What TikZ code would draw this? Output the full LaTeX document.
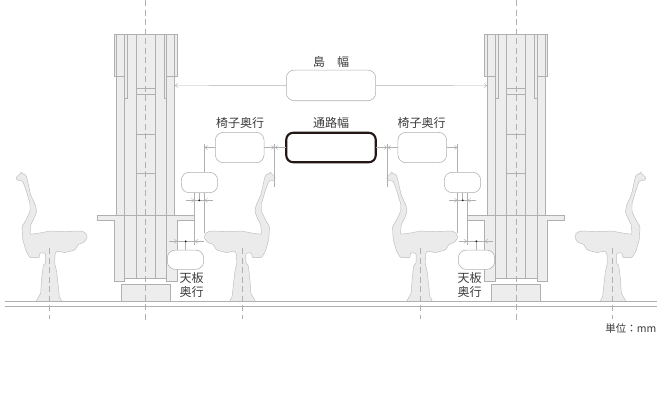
\documentclass[tikz,border=0pt]{standalone}
\usepackage{fontspec}
\setmainfont{Noto Sans CJK JP}
\usetikzlibrary{arrows.meta}
\definecolor{ln}{HTML}{B0B0B0}
\definecolor{fillg}{HTML}{EDEDED}
\definecolor{chairfill}{HTML}{EBEBEB}
\definecolor{chairline}{HTML}{BDBDBD}
\definecolor{txt}{HTML}{3C3C3C}
\definecolor{ink}{HTML}{231815}
\tikzset{
  part/.style={draw=ln,fill=fillg,line width=.5pt},
  edge/.style={draw=ln,line width=.5pt},
  chairbody/.style={draw=chairline,fill=chairfill,line width=.45pt,rounded corners=1pt},
  axis/.style={draw=ln,line width=.5pt,dash pattern=on 6pt off 3.5pt},
  dim/.style={draw=ln,line width=.45pt},
  tip/.style={dim,-{Straight Barb[length=3pt,width=4pt,line width=.4pt]}},
  blank/.style={draw=ln,line width=.55pt,fill=white,rounded corners=#1,inner sep=0pt,outer sep=0pt},
  blank/.default=8pt,
  label/.style={text=txt,font=\fontsize{12}{13}\selectfont,inner sep=0pt},
  dotmark/.style={circle,fill=ink,inner sep=0pt,minimum size=2pt}
}
\newcommand{\chairshape}[1]{%
\begin{scope}[#1]
\begin{scope}[shift={(10,165)},x=.3333pt,y=-.3333pt]
\draw[chairbody] (18,38)--(26,30)--(34,22)--(38,26)--(48,30)--(52,45)--(62,90)--(76,120)--(80,140)--(72,160)--(62,180)--(60,208)
--(90,204)--(120,198)--(150,200)--(215,198)--(228,205)--(232,218)--(222,232)--(205,238)--(195,255)--(165,263)--(140,258)
--(135,268)--(134,295)--(140,320)--(145,365)--(148,395)--(156,409)--(78,409)--(92,385)--(95,340)--(100,300)--(107,295)
--(107,265)--(90,263)--(88,278)--(60,278)--(48,258)--(38,222)--(36,185)--(48,165)--(60,140)--(60,115)--(48,75)--(38,48)--(22,46)--cycle;
\draw[axis] (118.5,250) -- (118.5,462);
\end{scope}
\end{scope}}
% #1 name suffix, #2 anchor toward the outer side, #3 anchor toward the aisle
\newcommand{\halfpic}[3]{%
% base
\draw[part] (121.3,284.7) rectangle (170.7,301.3);
% column
\fill[fillg] (116.4,76.3) rectangle (174.7,216);
\draw[part] (114.3,34) rectangle (177.3,76.3);
\fill[fillg] (116.9,70) rectangle (174.2,80);
\draw[edge] (116.4,34) -- (116.4,216) (174.7,34) -- (174.7,216);
\draw[edge] (124.7,34) -- (124.7,216) (127.7,34) -- (127.7,98.3) -- (124.7,98.3);
\draw[edge] (166.3,34) -- (166.3,216) (164,34) -- (164,98.3) -- (166.3,98.3);
\draw[edge] (114.3,76.3) -- (124.7,76.3) (166.3,76.3) -- (177.3,76.3);
\draw[edge] (136.3,34) -- (136.3,216) (155.3,34) -- (155.3,216);
\draw[edge] (136.3,88.3) -- (155.3,88.3) (136.3,94.3) -- (155.3,94.3)
            (136.3,134.3) -- (155.3,134.3) (136.3,173.3) -- (155.3,173.3);
% table and leg
\draw[part] (97.3,215.3) -- (194.3,215.3) -- (194.3,220.7) -- (177.7,220.7) -- (177.7,281.3)
  -- (166.3,281.3) -- (166.3,278.3) -- (124.7,278.3) -- (124.7,281.3) -- (114.3,281.3)
  -- (114.3,220.7) -- (97.3,220.7) -- cycle;
\draw[edge] (124.7,215.3) -- (124.7,278.3) (136.3,215.3) -- (136.3,278.3)
            (155.3,215.3) -- (155.3,278.3) (166.3,215.3) -- (166.3,278.3);
\draw[axis] (145.5,0) -- (145.5,321);
% chairs
\chairshape{}
\chairshape{xshift=291.5pt,xscale=-1}
% blanks
\path node[blank,minimum width=48.7pt,minimum height=30.4pt] (seatbox#1) at (239.7,147.5) {};
\path node[blank,minimum width=36.4pt,minimum height=20.4pt] (upbox#1) at (199.5,182.5) {};
\path node[blank,minimum width=36.4pt,minimum height=19.3pt] (lowbox#1) at (185.5,259.7) {};
% dimension points
\coordinate (islandend#1) at (174.7,85.5);
\coordinate (seatext#1) at (204.3,144);
\coordinate (seatpt#1) at (204.3,147.5);
\coordinate (aislext#1) at (274.7,144);
\coordinate (aislbot#1) at (274.7,186.7);
\coordinate (aislpt#1) at (274.7,147.5);
\coordinate (uin#1) at (194.7,192.7);
\coordinate (uinb#1) at (194.7,245);
\coordinate (uoutb#1) at (204.3,233);
\coordinate (ua#1) at (194.7,200.3);
\coordinate (ub#1) at (204.3,200.3);
\coordinate (uafree#1) at (186,200.3);
\coordinate (ubfree#1) at (213,200.3);
\coordinate (la#1) at (177.5,241.3);
\coordinate (lb#1) at (194.7,241.3);
\coordinate (lafree#1) at (168.8,241.3);
\coordinate (lbfree#1) at (203.5,241.3);
% connectors
\draw[dim] (seatext#1) -- (seatext#1 |- upbox#1.north);
\draw[dim] (seatext#1 |- upbox#1.south) -- (uoutb#1);
\draw[dim] (uin#1) -- (uinb#1);
\draw[dim] (aislext#1) -- (aislbot#1);
\draw[tip] (seatbox#1.#2) -- (seatpt#1);
\draw[tip] (seatbox#1.#3) -- (aislpt#1);
\coordinate (udc#1) at (199.3,200.3);
\coordinate (ldc#1) at (185.7,241.3);
\draw[dim] (upbox#1.south -| udc#1) -- (udc#1);
\draw[dim] (ua#1) -- (ub#1);
\draw[tip] (uafree#1) -- (ua#1);
\draw[tip] (ubfree#1) -- (ub#1);
\draw[dim] (lowbox#1.north -| ldc#1) -- (ldc#1);
\draw[dim] (la#1) -- (lb#1);
\draw[tip] (lafree#1) -- (la#1);
\draw[tip] (lbfree#1) -- (lb#1);
\path node[dotmark] (udot#1) at (udc#1) {};
\path node[dotmark] (ldot#1) at (ldc#1) {};
}
\begin{document}
\begin{tikzpicture}[x=1pt,y=-1pt]
\useasboundingbox (0,0) rectangle (660,400);
\fill[white] (0,0) rectangle (660,400);
\halfpic{L}{west}{east}
\begin{scope}[xshift=662pt,xscale=-1]
\halfpic{R}{east}{west}
\end{scope}
% floor
\coordinate (floorAl) at (5,301.3);
\coordinate (floorAr) at (657,301.3);
\coordinate (floorBl) at (5,306.3);
\coordinate (floorBr) at (657,306.3);
\draw[edge] (floorAl) -- (floorAr);
\draw[edge] (floorBl) -- (floorBr);
% centre boxes
\node[blank,minimum width=89.4pt,minimum height=30.7pt] (island) at (331,85.4) {};
\node[blank=7pt,draw=ink,line width=2.1pt,minimum width=89.5pt,minimum height=29.5pt] (aisle) at (331,147.5) {};
\draw[tip] (island.west) -- (islandendL);
\draw[tip] (island.east) -- (islandendR);
\draw[tip] (aisle.west) -- (aislptL);
\draw[tip] (aisle.east) -- (aislptR);
% labels
\node[label] (tisland) at (331,61.5) {島　幅};
\node[label] (taisle) at (331,122.5) {通路幅};
\node[label] (tseatL) at (240,122.5) {椅子奥行};
\node[label] (tseatR) at (421.5,122.5) {椅子奥行};
\node[label,align=center] (ttopL) at (191.7,284.8) {天板\\[1.2pt]奥行};
\node[label,align=center] (ttopR) at (469.5,284.8) {天板\\[1.2pt]奥行};
\node[label,anchor=east,font=\fontsize{10.5}{12}\selectfont] (unit) at (656.5,328) {単位：mm};
\end{tikzpicture}
\end{document}
